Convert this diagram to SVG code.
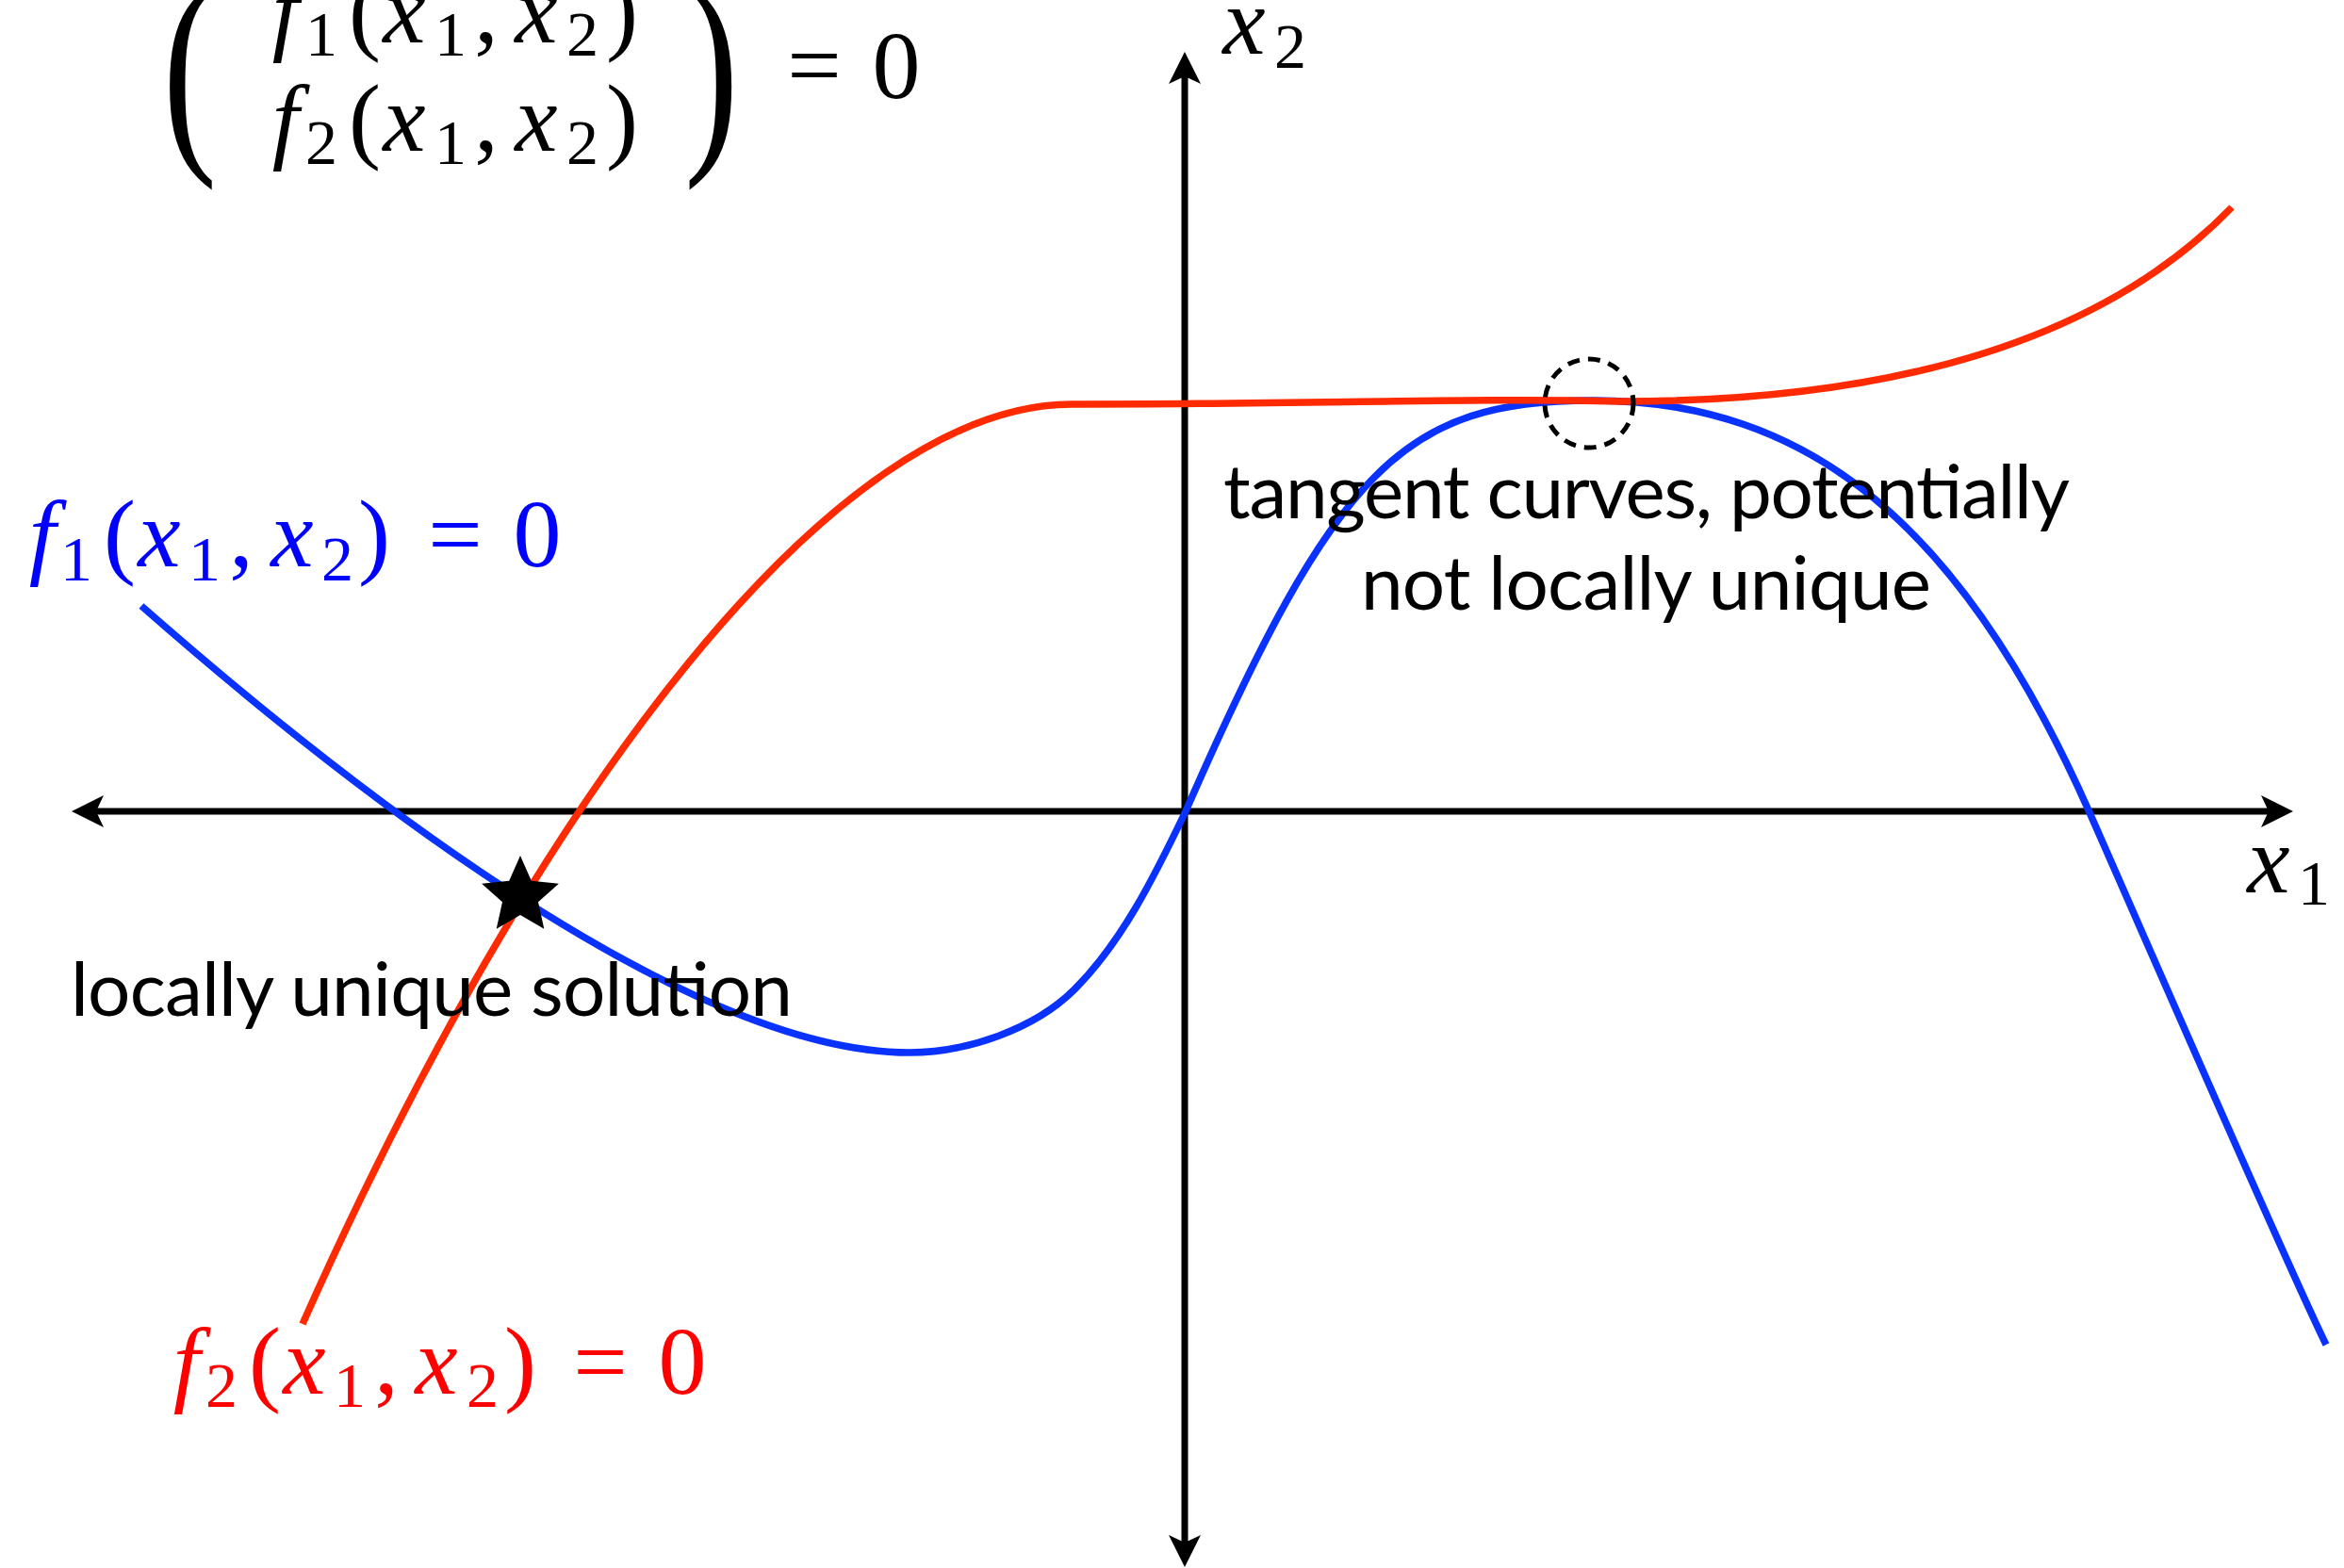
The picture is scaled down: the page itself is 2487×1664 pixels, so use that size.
<svg xmlns="http://www.w3.org/2000/svg" width="2487" height="1664" viewBox="0 0 2487 1664">
<defs>
<style>
.axis{stroke:#000;stroke-width:7;fill:none}
.curve{fill:none;stroke-width:7.5;stroke-linecap:butt;stroke-linejoin:round}
.blue{stroke:#0a32ff}
.red{stroke:#ff2a00}
.m{font-family:"Liberation Serif","Times New Roman",serif;font-size:102px;text-anchor:middle}
.it{font-style:italic}
.sub{font-size:68px}
.big{font-size:241px}
.lbl{font-family:Lato,"Open Sans","Liberation Sans",sans-serif;font-size:80px;fill:#000}
</style>
<marker id="arr" markerUnits="userSpaceOnUse" markerWidth="40" markerHeight="40" refX="8" refY="0" orient="auto-start-reverse" overflow="visible">
<path d="M0,-17 L34,0 L0,17 L8,0 Z" fill="#000"/>
</marker>
</defs>
<rect width="2487" height="1664" fill="#fff"/>

<g id="axes">
<line id="x1-axis" class="axis" x1="102" y1="861" x2="2407" y2="861" marker-start="url(#arr)" marker-end="url(#arr)"/>
<line id="x2-axis" class="axis" x1="1257" y1="81" x2="1257" y2="1637" marker-start="url(#arr)" marker-end="url(#arr)"/>
</g>

<g id="curves">
<path id="f1" class="curve blue" d="M150,643 C412.9,874 745,1117 965,1117 C1025,1117 1097.6,1092.4 1140,1050 C1189.5,1000.5 1223.4,933.2 1258,861 C1418,494.6 1490,425 1690,425 C1920,425 2082,558.4 2216,860 C2256.6,951.4 2424,1337.2 2468,1427"/>
<path id="f2" class="curve red" d="M321,1405 C573,838 887,429 1137,429 C1400,429 1560,422 1720,426 C2020,426 2236,356 2368,220"/>
<circle id="tangent-marker" cx="1686" cy="428" r="47" fill="none" stroke="#000" stroke-width="5" stroke-dasharray="13 9"/>
</g>

<g id="system-equation" fill="#000">
<text class="m big" transform="translate(201.5,150) scale(0.72,1)">(</text>
<text class="m big" transform="translate(755,150) scale(0.72,1)">)</text>
<text class="m"><tspan class="it" x="303" y="45">f</tspan><tspan class="sub" x="341" y="59">1</tspan><tspan x="387" y="45">(</tspan><tspan class="it" x="429" y="45">x</tspan><tspan class="sub" x="478" y="59">1</tspan><tspan x="516" y="45">,</tspan><tspan class="it" x="569" y="45">x</tspan><tspan class="sub" x="618" y="59">2</tspan><tspan x="660" y="45">)</tspan></text>
<text class="m"><tspan class="it" x="303" y="160">f</tspan><tspan class="sub" x="341" y="174">2</tspan><tspan x="387" y="160">(</tspan><tspan class="it" x="429" y="160">x</tspan><tspan class="sub" x="478" y="174">1</tspan><tspan x="516" y="160">,</tspan><tspan class="it" x="569" y="160">x</tspan><tspan class="sub" x="618" y="174">2</tspan><tspan x="660" y="160">)</tspan></text>
<text class="m"><tspan x="864" y="103">=</tspan><tspan x="951" y="104">0</tspan></text>
</g>

<g id="f1-label" fill="#0000ff">
<text class="m"><tspan class="it" x="45" y="601">f</tspan><tspan class="sub" x="81" y="616">1</tspan><tspan x="127" y="601">(</tspan><tspan class="it" x="169" y="601">x</tspan><tspan class="sub" x="217" y="616">1</tspan><tspan x="256" y="601">,</tspan><tspan class="it" x="310" y="601">x</tspan><tspan class="sub" x="358" y="616">2</tspan><tspan x="397" y="601">)</tspan><tspan x="483" y="601">=</tspan><tspan x="570" y="601">0</tspan></text>
</g>

<g id="f2-label" fill="#ff0000">
<text class="m"><tspan class="it" x="198" y="1479">f</tspan><tspan class="sub" x="235" y="1493">2</tspan><tspan x="281" y="1479">(</tspan><tspan class="it" x="323" y="1479">x</tspan><tspan class="sub" x="371" y="1493">1</tspan><tspan x="410" y="1479">,</tspan><tspan class="it" x="463" y="1479">x</tspan><tspan class="sub" x="512" y="1493">2</tspan><tspan x="552" y="1479">)</tspan><tspan x="637" y="1479">=</tspan><tspan x="724" y="1479">0</tspan></text>
</g>

<g id="axis-labels" fill="#000">
<text class="m"><tspan class="it" x="1320" y="57">x</tspan><tspan class="sub" x="1369" y="72">2</tspan></text>
<text class="m"><tspan class="it" x="2407" y="947">x</tspan><tspan class="sub" x="2455" y="960">1</tspan></text>
</g>

<g id="annotations">
<text class="lbl" x="75" y="1078" textLength="766" lengthAdjust="spacing">locally unique solution</text>
<text class="lbl" x="1298" y="550" textLength="898" lengthAdjust="spacing">tangent curves, potentially</text>
<text class="lbl" x="1444" y="647" textLength="605" lengthAdjust="spacing">not locally unique</text>
</g>

<g id="solution-star">
<polygon points="552,908 563.8,934.8 592.9,937.7 571,957.2 577.3,985.8 552,971 526.7,985.8 533,957.2 511.1,937.7 540.2,934.8" fill="#000"/>
</g>
</svg>
